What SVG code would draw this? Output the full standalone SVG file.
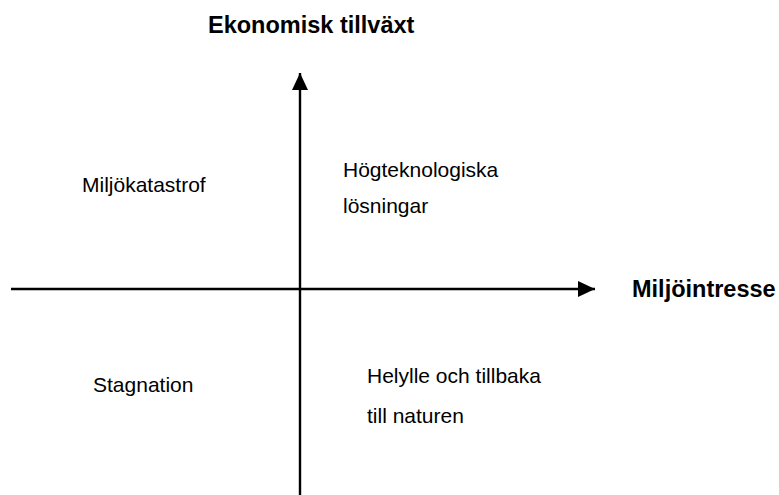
<svg xmlns="http://www.w3.org/2000/svg" width="779" height="495" viewBox="0 0 779 495">
<style>
.lbl{font-family:"Liberation Sans",Arial,sans-serif;font-size:21px;fill:#000}
.ax{font-family:"Liberation Sans",Arial,sans-serif;font-size:23.5px;font-weight:bold;fill:#000}
.axis{stroke:#000;stroke-width:2.4;fill:none}
</style>
<defs>
<marker id="ah" viewBox="0 0 17 16" refX="17" refY="8" markerWidth="17" markerHeight="16" markerUnits="userSpaceOnUse" orient="auto">
<path d="M0,0 L17,8 L0,16 Z" fill="#000"/>
</marker>
</defs>
<rect width="779" height="495" fill="#fff"/>
<g id="connectors">
<line class="axis" x1="11" y1="289" x2="595" y2="289" marker-end="url(#ah)"/>
<line class="axis" x1="300" y1="495" x2="300" y2="73" marker-end="url(#ah)"/>
</g>
<g id="axis-y-label"><text class="ax" x="208" y="33">Ekonomisk tillväxt</text></g>
<g id="axis-x-label"><text class="ax" x="632" y="297">Miljöintresse</text></g>
<g id="q-miljokatastrof"><text class="lbl" x="82" y="192">Miljökatastrof</text></g>
<g id="q-hogteknologiska"><text class="lbl" x="343" y="177">Högteknologiska</text><text class="lbl" x="343" y="213">lösningar</text></g>
<g id="q-stagnation"><text class="lbl" x="93" y="392">Stagnation</text></g>
<g id="q-helylle"><text class="lbl" x="367" y="383">Helylle och tillbaka</text><text class="lbl" x="367" y="423">till naturen</text></g>
</svg>
